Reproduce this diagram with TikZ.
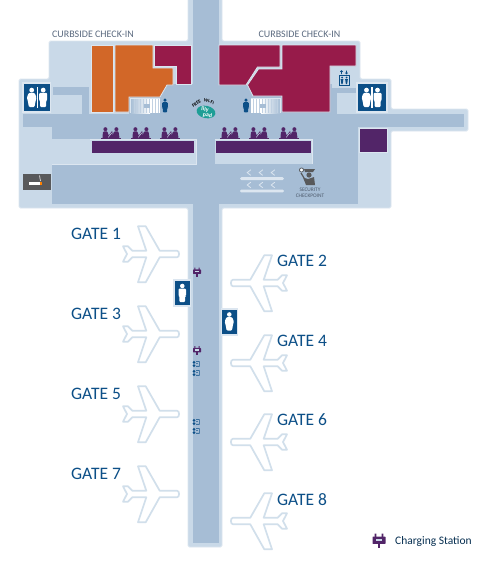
\documentclass[tikz,border=0pt]{standalone}
\usepackage{fontspec}
\setmainfont{Carlito}
\definecolor{lightb}{HTML}{C9D9E8}
\definecolor{darkb}{HTML}{A6BDD5}
\definecolor{edgeb}{HTML}{DCE6F0}
\definecolor{crim}{HTML}{971B4A}
\definecolor{orng}{HTML}{D26728}
\definecolor{purp}{HTML}{522568}
\definecolor{navy}{HTML}{0C4F87}
\definecolor{teal2}{HTML}{1E9E96}
\definecolor{greyb}{HTML}{58595B}
\definecolor{labelg}{HTML}{5C6B80}
\tikzset{
  lightfill/.style={fill=lightb,draw=none},
  darkfill/.style={fill=darkb,draw=none},
  room/.style={draw=edgeb,line width=0.8pt},
  planeshape/.style={fill=white,draw=lightb!85!white,line width=1.7pt,line join=round},
  gatelabel/.style={text=navy,font=\fontsize{17.5}{18}\selectfont,inner sep=0pt},
  curblabel/.style={text=labelg,font=\fontsize{10}{10}\selectfont,inner sep=0pt},
  wcbox/.style={fill=navy,draw=edgeb,line width=1.2pt},
}
\newcommand\planeat[3]{%
  \begin{scope}[shift={(#1,#2)},xscale=#3]
  \draw[planeshape] (-2,-3.3) -- (-19.3,-3.3) -- (-33.3,-27.7) -- (-41,-27.7) -- (-32.7,-3.3) -- (-46.7,-3.3)
    -- (-51,-7.7) -- (-56,-7.7) -- (-52,0) -- (-56,7.7) -- (-51,7.7) -- (-46.7,3.3) -- (-32.7,3.3)
    -- (-41,28.3) -- (-33.3,28.3) -- (-19.3,3.3) -- (-2,3.3) .. controls (0.8,3.3) and (0.8,-3.3) .. (-2,-3.3) -- cycle;
  \end{scope}}
\newcommand\manfig[4]{%
  \begin{scope}[shift={(#1,#2)},scale=#3]
  \fill[#4] (0,-7.4) circle (2.4);
  \fill[#4,rounded corners=1pt] (-4,-4.6) -- (4,-4.6) -- (4,3) -- (3,3) -- (3,9.5) -- (-3,9.5) -- (-3,3) -- (-4,3) -- cycle;
  \end{scope}}
\newcommand\womanfig[4]{%
  \begin{scope}[shift={(#1,#2)},scale=#3]
  \fill[#4] (0,-7.4) circle (2.4);
  \fill[#4,rounded corners=1pt] (-3,-4.6) -- (3,-4.6) -- (4.8,0) -- (3.8,4) -- (2.8,9.5) -- (-2.8,9.5) -- (-3.8,4) -- (-4.8,0) -- cycle;
  \end{scope}}
\newcommand\plugicon[3]{%
  \begin{scope}[shift={(#1,#2)},scale=#3]
  \fill[purp] (-3.4,-5) rectangle (-2,-2) (2,-5) rectangle (3.4,-2);
  \fill[purp,rounded corners=0.6pt] (-5,-2.6) rectangle (5,3);
  \fill[purp] (-0.8,2.5) rectangle (0.8,6.5);
  \fill[lightb] (-2.4,-0.8) rectangle (2.4,0.8);
  \end{scope}}
\newcommand\chargeblue[2]{%
  \begin{scope}[shift={(#1,#2)}]
  \fill[navy] (-2,-1.6) circle (1.5);
  \fill[navy] (-2,1.6) circle (1.5);
  \fill[navy!70!darkb] (0,-3) rectangle (3.6,-2.1) (0,1.8) rectangle (3.6,2.8);
  \draw[navy!60!darkb,line width=0.6pt] (3.2,-2.1) -- (3.2,1.8) (0.2,-0.3) -- (2,-0.3);
  \end{scope}}
\newcommand\seatedicon[2]{%
  \begin{scope}[shift={(#1,#2)},purp]
  \fill (-5.6,-3.8) circle (2);
  \fill (5.4,-3.8) circle (2);
  \fill[rounded corners=0.8pt] (-8.6,5.2) -- (-8,-1.4) -- (-3.8,-1.8) -- (-2.2,2.6) -- (1.2,-2.4) -- (1.8,2.6) -- (2.8,-1.4) -- (7.4,-1.8) -- (8.6,5.2) -- cycle;
  \fill (-9.6,4.8) rectangle (9.6,6);
  \draw[lightb,line width=0.5pt] (-2.8,4.4) -- (0.8,-0.2);
  \end{scope}}
\newcommand\chevron[2]{\draw[edgeb,line width=0.8pt] (#1+1.8,#2-2.8) -- (#1-1.8,#2) -- (#1+1.8,#2+2.8);}
\begin{document}
\begin{tikzpicture}[x=1pt,y=-1pt]
\useasboundingbox (0,0) rectangle (483,568);
\fill[white] (0,0) rectangle (483,568);
\draw[fill=lightb,draw=edgeb,line width=0.8pt,rounded corners=1.5pt]
  (188,-3) -- (188,41) -- (49,41) -- (49,79) -- (19,79) -- (19,208) -- (188,208) -- (188,547) -- (222,547) -- (222,208)
  -- (391,208) -- (391,131) -- (468,131) -- (468,109) -- (391,109) -- (391,79) -- (360,79) -- (360,41) -- (222,41) -- (222,-3) -- cycle;
\fill[darkb] (193,-3) rectangle (219,543);
\fill[darkb] (23,114) rectangle (464,126.5);
\fill[darkb] (52,114) rectangle (358,139);
\fill[darkb] (52,164) rectangle (358,204);
\fill[darkb] (312,114) rectangle (358,204);
\fill[darkb] (196,139) rectangle (215,164);
\fill[darkb] (129,84) rectangle (193,114);
\fill[darkb] (219,84) rectangle (332,114);
\fill[darkb] (332,88) rectangle (356,93);
\fill[darkb] (332,88) rectangle (337,114);
\fill[darkb] (53,87) rectangle (89,95);
\fill[darkb] (82,87) rectangle (89,114);
\fill[edgeb] (90,138.7) rectangle (196.6,140);
\fill[edgeb] (214.6,138.7) rectangle (312.6,140);
\fill[edgeb] (312,139) rectangle (312.8,164.3);
\fill[edgeb] (196,139) rectangle (196.6,164.3);
\fill[edgeb] (52,163.8) rectangle (196.6,164.6);
\fill[edgeb] (214.6,139) rectangle (215.2,164.3);
\fill[lightb] (52,140) rectangle (196,164);
\fill[lightb] (215,140) rectangle (312,164);
\draw[room,fill=orng] (91,45) rectangle (113,112);
\draw[room,fill=orng] (115,45) -- (153,45) -- (153,68) -- (173,68) -- (173,85) -- (167,85) -- (160,97) -- (129,97) -- (129,112) -- (115,112) -- cycle;
\draw[room,fill=crim] (154.5,45) -- (191,45) -- (191,84) -- (176,84) -- (176,66.5) -- (154.5,66.5) -- cycle;
\draw[room,fill=crim] (219,45) -- (280,45) -- (280,67) -- (257.5,67) -- (246,85) -- (219,85) -- cycle;
\draw[room,fill=crim] (282,45) -- (356,45) -- (356,66) -- (330,66) -- (330,112) -- (282,112) -- (282,96) -- (253,96) -- (247.5,85) -- (258.5,69) -- (282,69) -- cycle;
\fill[purp] (92,141) rectangle (194,153);
\fill[purp] (216,141) rectangle (310.5,153);
\draw[edgeb,line width=0.5pt,fill=purp] (359,128) rectangle (387,152);
\shade[left color=darkb,right color=white] (130,98) rectangle (150,113);
\fill[white] (150,98) rectangle (160,113);
\foreach \sx in {134,137,...,158}{\fill[darkb!70!white] (\sx,98) rectangle (\sx+0.8,113);}
\fill[darkb] (144,103.5) rectangle (150,107.5);
\shade[left color=white,right color=darkb] (261,98) rectangle (280,113);
\fill[white] (251,98) rectangle (261,113);
\foreach \sx in {253,256,...,277}{\fill[darkb!70!white] (\sx,98) rectangle (\sx+0.8,113);}
\fill[darkb] (260,103.5) rectangle (266,107.5);
\draw[edgeb,line width=0.5pt] (130,113) -- (130,98) -- (160,98);
\draw[edgeb,line width=0.5pt] (251,98) -- (280,98) -- (280,113);
\manfig{165}{105.5}{0.72}{navy}
\manfig{246}{105.5}{0.72}{navy}
\draw[wcbox] (23,83) rectangle (50.5,112);
\womanfig{31.7}{97.5}{1}{white}
\fill[white] (37.2,87) rectangle (38.4,108);
\manfig{43.2}{97.5}{1}{white}
\draw[wcbox] (357,83) rectangle (387,112);
\womanfig{366.5}{97.5}{1}{white}
\fill[white] (371.4,87) rectangle (372.6,108);
\manfig{377.5}{97.5}{1}{white}
\draw[wcbox] (174,280) rectangle (190.7,306);
\manfig{182.3}{293}{0.95}{white}
\draw[wcbox] (221.7,309) rectangle (237.3,335);
\womanfig{229.3}{321.5}{0.95}{white}
\fill[greyb] (23,174) rectangle (51,190);
\fill[white] (29,182.2) rectangle (39.5,185);
\fill[orange] (39.5,182.2) rectangle (41.5,185);
\draw[white!80!greyb,line width=0.7pt] (40.5,181) .. controls (38.5,178.5) and (41.5,178) .. (39.5,175.5);
\seatedicon{111}{133}
\seatedicon{141}{133}
\seatedicon{170}{133}
\seatedicon{230}{133}
\seatedicon{259}{133}
\seatedicon{289}{133}
\draw[navy,fill=lightb,line width=0.7pt] (339.5,75) rectangle (349,85);
\fill[navy] (342,77.5) circle (1);
\fill[navy] (346.5,77.5) circle (1);
\fill[navy] (340.6,79) -- (343.4,79) -- (342.6,84) -- (341.4,84) -- cycle;
\fill[navy] (345.1,79) -- (347.9,79) -- (347.1,84) -- (345.9,84) -- cycle;
\draw[navy,line width=0.6pt] (341.5,70.5) -- (341.5,74) (340.3,71.8) -- (341.5,70.5) -- (342.7,71.8);
\draw[navy,line width=0.6pt] (346.5,70.5) -- (346.5,74) (345.3,72.7) -- (346.5,74) -- (347.7,72.7);
\fill[teal2,rotate around={-12:(206,112)}] (206,112) ellipse (9.5 and 6.2);
\node[font=\fontsize{4.8}{5}\selectfont\bfseries,inner sep=0pt,text=black,rotate=32] (freeLabel) at (196.5,103.5) {FREE};
\node[font=\fontsize{4.8}{5}\selectfont\bfseries,inner sep=0pt,text=black,rotate=-14] (wifiLabel) at (209,101.5) {Wi-Fi};
\node[font=\fontsize{6}{6}\selectfont\bfseries,inner sep=0pt,text=white,rotate=-8] (lilyLabel) at (205,109.5) {lily};
\node[font=\fontsize{6}{6}\selectfont\bfseries,inner sep=0pt,text=white,rotate=-8] (padLabel) at (207.5,115.3) {pad};
\foreach \cx in {249,261,273}{\chevron{\cx}{172.6}\chevron{\cx}{185}}
\fill[edgeb,rounded corners=1.3pt] (240,177.2) rectangle (284,180);
\fill[edgeb,rounded corners=1.3pt] (240,189.6) rectangle (284,192.4);
\fill[greyb] (304,169) -- (315,169) -- (313,172) -- (305,172) -- cycle;
\fill[greyb] (309,175) circle (2.6);
\fill[greyb] (303,177.5) -- (308,179) -- (314,177) -- (315,185) -- (306,185) -- cycle;
\fill[white] (301.5,170) circle (1.7);
\draw[greyb,line width=0.7pt] (301.5,170) circle (2.1);
\draw[greyb,line width=1.2pt] (301,173) -- (304,178);
\node[text=labelg!85!black,font=\fontsize{5.4}{6.5}\selectfont,inner sep=0pt,align=center] (securityLabel) at (310,193.2) {SECURITY\\[-0.6pt]CHECKPOINT};
\planeat{179}{254}{1}
\planeat{179}{334}{1}
\planeat{179}{414}{1}
\planeat{179}{494}{1}
\planeat{231}{283}{-1}
\planeat{231}{363}{-1}
\planeat{231}{442}{-1}
\planeat{231}{521}{-1}
\plugicon{197}{271.5}{0.8}
\plugicon{197}{350}{0.8}
\chargeblue{196}{364}
\chargeblue{196}{373}
\chargeblue{196}{422}
\chargeblue{196}{431}
\plugicon{379}{540}{1.3}
\node[curblabel] (curbL) at (93,34.5) {CURBSIDE CHECK-IN};
\node[curblabel] (curbR) at (299.5,34.5) {CURBSIDE CHECK-IN};
\node[gatelabel,anchor=west] (gate1) at (71,234) {GATE 1};
\node[gatelabel,anchor=west] (gate3) at (71,314) {GATE 3};
\node[gatelabel,anchor=west] (gate5) at (71,394) {GATE 5};
\node[gatelabel,anchor=west] (gate7) at (71,474) {GATE 7};
\node[gatelabel,anchor=west] (gate2) at (277,261) {GATE 2};
\node[gatelabel,anchor=west] (gate4) at (277,341) {GATE 4};
\node[gatelabel,anchor=west] (gate6) at (277,420) {GATE 6};
\node[gatelabel,anchor=west] (gate8) at (277,500) {GATE 8};
\node[anchor=west,inner sep=0pt,text=navy!60!black,font=\fontsize{11.5}{12}\selectfont] (chargeLabel) at (395,541) {Charging Station};
\end{tikzpicture}
\end{document}
